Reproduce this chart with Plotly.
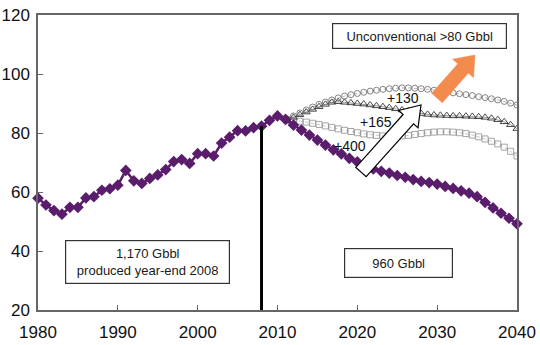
import numpy as np
import plotly.graph_objects as go

# ---- data -------------------------------------------------------------
years = list(range(1980, 2041))
production = [
    57.9, 55.6, 53.7, 52.5, 54.8, 54.8, 58.0, 58.4, 60.6, 61.1,   # 1980-1989
    62.3, 67.3, 63.8, 62.9, 64.6, 65.8, 67.6, 70.3, 71.0, 69.7,   # 1990-1999
    73.0, 73.0, 72.2, 76.6, 78.6, 80.8, 80.7, 81.8, 82.3, 84.3,   # 2000-2009
    85.8, 84.6, 82.7, 81.0, 79.3, 77.6, 75.9, 74.3, 72.9, 71.4,   # 2010-2019
    70.2, 68.8, 67.8, 67.0, 66.4, 65.6, 65.0, 64.2, 63.6, 63.2,   # 2020-2029
    62.7, 61.9, 61.2, 60.4, 59.6, 58.4, 56.5, 54.6, 52.8, 51.1,   # 2030-2039
    49.2,                                                         # 2040
]

scen_years = [round(2011.2 + 0.8 * k, 1) for k in range(37)]
scen_circles = [
    84.8, 85.8, 86.8, 87.8, 88.8, 89.7, 90.5, 91.2, 91.9, 92.5,
    93.0, 93.4, 93.8, 94.2, 94.5, 94.8, 95.0, 95.2, 95.3, 95.3,
    95.2, 95.0, 94.8, 94.5, 94.2, 93.9, 93.6, 93.3, 93.0, 92.7,
    92.3, 92.0, 91.6, 91.2, 90.7, 90.1, 89.5,
]
scen_triangles = [
    84.5, 85.3, 86.2, 87.1, 88.0, 88.9, 89.7, 90.4, 90.6, 90.4,
    90.2, 90.0, 89.8, 89.5, 89.2, 88.9, 88.6, 88.2, 87.8, 87.4,
    87.0, 86.6, 86.3, 86.1, 86.0, 85.9, 85.8, 85.8, 85.7, 85.6,
    85.5, 85.3, 85.0, 84.5, 83.8, 82.8, 81.5,
]
scen_squares = [
    84.3, 84.2, 84.0, 83.7, 83.3, 82.9, 82.4, 81.9, 81.4, 80.9,
    80.5, 80.1, 79.7, 79.4, 79.2, 79.0, 78.9, 78.9, 79.0, 79.2,
    79.5, 79.8, 80.1, 80.3, 80.4, 80.4, 80.3, 80.1, 79.8, 79.3,
    78.7, 78.0, 77.2, 76.3, 75.2, 73.8, 72.2,
]

split_year = 2008
x_ticks = [1980, 1990, 2000, 2010, 2020, 2030, 2040]
y_ticks = [20, 40, 60, 80, 100, 120]

# ---- layout geometry --------------------------------------------------
W, H = 540, 345
ML, MR, MT, MB = 38, 23, 15, 35
X0, X1 = 1980, 2040
Y0, Y1 = 20, 120
PW, PH = W - ML - MR, H - MT - MB


def to_data(px, py):
    """Convert a page pixel position to data coordinates."""
    x = X0 + (px - ML) / PW * (X1 - X0)
    y = Y0 + (H - MB - py) / PH * (Y1 - Y0)
    return x, y


def arrow_path(tail, tip, half_shaft, half_head, head_len):
    """Block arrow outline (pixel geometry) as an SVG path in data units."""
    t = np.array(tail, float)
    p = np.array(tip, float)
    u = (p - t) / np.linalg.norm(p - t)
    n = np.array([-u[1], u[0]])
    base = p - u * head_len
    pts = [
        t + n * half_shaft,
        base + n * half_shaft,
        base + n * half_head,
        p,
        base - n * half_head,
        base - n * half_shaft,
        t - n * half_shaft,
    ]
    coords = [to_data(*q) for q in pts]
    return "M " + " L ".join(f"{x:.4f},{y:.4f}" for x, y in coords) + " Z"


FONT = "Liberation Sans, Arial, sans-serif"
PURPLE = "#5a1d6c"

fig = go.Figure()

fig.add_trace(go.Scatter(
    x=scen_years, y=scen_squares, mode="lines+markers",
    line=dict(color="#a0a0a0", width=0.6, dash="dot"),
    marker=dict(symbol="square-open", size=6, color="#8f8f8f",
                line=dict(width=0.8)),
    hoverinfo="skip",
))
fig.add_trace(go.Scatter(
    x=scen_years, y=scen_triangles, mode="lines+markers",
    line=dict(color="#555555", width=0.6),
    marker=dict(symbol="triangle-up-open", size=7, color="#333333",
                line=dict(width=0.9)),
    hoverinfo="skip",
))
fig.add_trace(go.Scatter(
    x=scen_years, y=scen_circles, mode="lines+markers",
    line=dict(color="#888888", width=0.6, dash="dot"),
    marker=dict(symbol="circle-open", size=6, color="#666666",
                line=dict(width=0.8)),
    hoverinfo="skip",
))
fig.add_trace(go.Scatter(
    x=years, y=production, mode="lines+markers",
    line=dict(color=PURPLE, width=2.5),
    marker=dict(symbol="diamond", size=9, color=PURPLE),
    cliponaxis=False,
    hoverinfo="skip",
))

# end of recorded production
split_value = production[years.index(split_year)]
fig.add_shape(type="line", x0=split_year, x1=split_year, y0=Y0, y1=split_value,
              xref="x", yref="y", line=dict(color="black", width=3))

# block arrows
fig.add_shape(type="path", xref="x", yref="y", layer="above",
              path=arrow_path((361, 172), (421, 105), 7, 13, 19),
              fillcolor="white", line=dict(color="black", width=1.2))
fig.add_shape(type="path", xref="x", yref="y", layer="above",
              path=arrow_path((437, 98), (475, 55), 7, 14, 18),
              fillcolor="#f28b4c", line=dict(color="#f28b4c", width=0.5))


def box(text, cx, cy, w, h, size=13):
    x, y = to_data(cx, cy)
    fig.add_annotation(
        x=x, y=y, xref="x", yref="y", text=text, showarrow=False,
        width=w, height=h, borderpad=0, bgcolor="white",
        bordercolor="#333333", borderwidth=1.2, align="center",
        font=dict(family=FONT, size=size, color="#1a1a1a"),
    )


box("Unconventional >80 Gbbl", 419, 36, 173, 24, 13)
box("1,170 Gbbl<br>produced year-end 2008", 147.5, 262, 163, 42, 13)
box("960 Gbbl", 398, 262.5, 107, 28, 13)

for label, px, py in [("+130", 403, 98), ("+165", 376, 122), ("+400", 350, 146)]:
    x, y = to_data(px, py)
    fig.add_annotation(x=x, y=y, xref="x", yref="y", text=label, showarrow=False,
                       font=dict(family=FONT, size=14, color="#111111"))

axis_common = dict(
    showline=True, mirror=True, linecolor="#666666", linewidth=1.5,
    ticks="inside", ticklen=5, tickwidth=1.2, tickcolor="#666666",
    showgrid=False, zeroline=False, automargin=False,
    tickfont=dict(family=FONT, size=17, color="#111111"),
)

fig.update_layout(
    width=W, height=H,
    margin=dict(l=ML, r=MR, t=MT, b=MB),
    paper_bgcolor="white", plot_bgcolor="white",
    showlegend=False,
    xaxis=dict(range=[X0, X1], tickvals=x_ticks, ticklabelstandoff=6, **axis_common),
    yaxis=dict(range=[Y0, Y1], tickvals=y_ticks, ticklabelstandoff=3, **axis_common),
)

fig.write_html("out.html")
